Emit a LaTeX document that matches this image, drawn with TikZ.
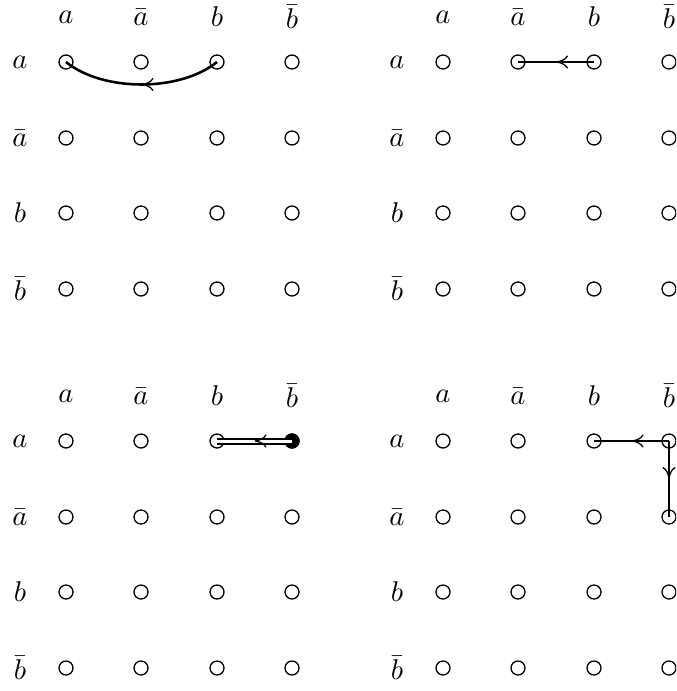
\documentclass[tikz,border=0pt]{standalone}
\usetikzlibrary{decorations.markings,arrows.meta}
\begin{document}
\begin{tikzpicture}[x=0.35pt,y=-0.35pt,
  dot/.style={circle,draw,line width=0.45pt,minimum size=4.9pt,inner sep=0pt},
  full/.style={dot,fill=black},
  lab/.style={anchor=center,inner sep=0pt},
  conn/.style={line width=0.9pt},
  midarrow/.style={postaction={decorate},decoration={markings,
     mark=at position 0.5 with {\arrow[line width=0.45pt]{To[length=4.2pt,width=4.6pt]}}}}]
\clip (0,0) rectangle (676,691);
\foreach \p/\ox/\oy in {A/0/0,B/377/0,C/0/379,D/377/379} {
  \foreach \c/\x in {1/66,2/141,3/217,4/292} {
    \foreach \r/\y in {1/62,2/138,3/213,4/289} {
      \node[dot] (\p\r\c) at (\x+\ox,\y+\oy) {};
    }
  }
  \foreach \c/\x/\t in {1/66/{a},2/141/{\bar a},3/217/{b},4/292/{\bar b}} {
    \node[lab] (\p col\c) at (\x+\ox,17+\oy) {$\t$};
  }
  \foreach \r/\y/\t in {1/62/{a},2/138/{\bar a},3/213/{b},4/289/{\bar b}} {
    \node[lab] (\p row\r) at (20+\ox,\y+\oy) {$\t$};
  }
}
% top left: curved connector
\draw[conn,midarrow] (A13.center) .. controls (180,92) and (103,92) .. (A11.center);
% top right: straight
\draw[conn,midarrow] (B13.center) -- (B12.center);
% bottom left: double line with filled end
\node[full] (C14f) at (C14) {};
\draw[line width=0.7pt,double,double distance=1.05pt,midarrow] (C14f.center) -- (C13.center);
% bottom right
\draw[conn,midarrow] (D14.center) -- (D13.center);
\draw[conn,midarrow] (D14.center) -- (D24.center);
\end{tikzpicture}
\end{document}
